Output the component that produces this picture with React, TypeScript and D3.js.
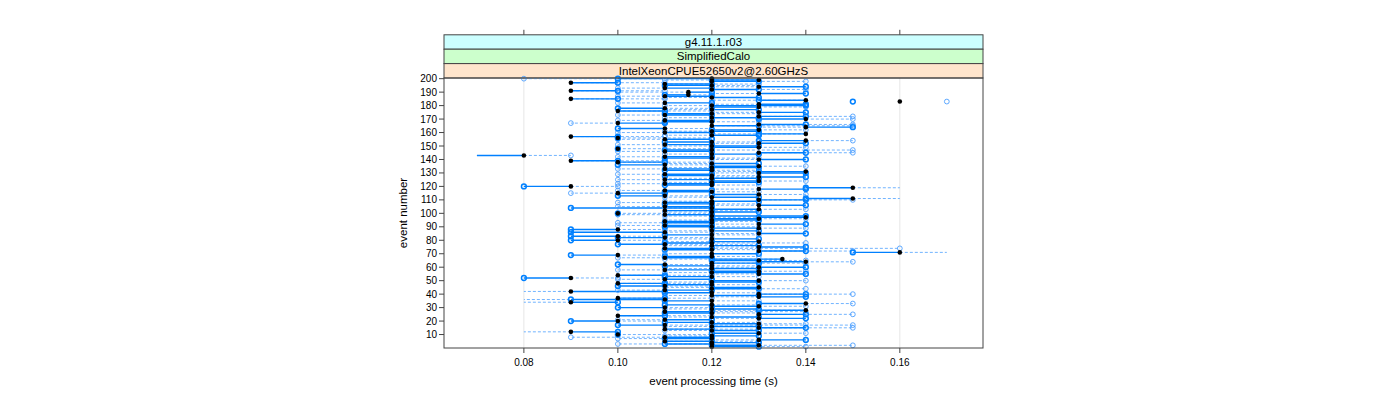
import React from "react";
import * as d3 from "d3";

// Per-event values in hundredths of a second (event 1..200)
const blackTime = [
  12,13,12,12,11,13,12,11,12,10, 13,9,12,11,13,12,11,13,12,10,
  11,13,12,10,13,12,11,14,12,11, 13,12,14,9,12,11,10,13,12,13,
  12,9,11,12,13,11,12,10,12,13, 11,9,12,10,13,12,13,11,12,13,
  12,11,12,14,13,13.5,11,12,10,12, 16,13,12,11,13,12,11,12,13,10,
  12,11,10,12,13,11,12,10,13,12, 11,13,12,11,12,13,14,12,11,10,
  12,11,13,12,11,13,12,11,12,13, 15,12,11,13,10,12,11,13,15,9,
  12,11,12,13,11,12,13,12,11,13, 14,12,11,12,13,11,12,10,9,13,
  12,11,8,12,13,11,12,10,13,12, 11,13,12,14,11,10,9,12,14,11,
  12,13,11,14,12,13,10,12,11,14, 12,13,11,12,13,10,12,11,13,12,
  13,11,16,14,9,12,11,11.5,13,11.5, 9,12,11,13,12,11,9,12,13,12,
];
const blueTime = [
  13,12,11,13,12,14,11,12,13,10, 12,10,13,12,14,13,10,12,11,9,
  12,14,13,11,14,11,12,13,13,10, 12,11,13,10,11,9,11,14,13,14,
  11,11,12,13,12,10,11,11,13,12, 12,8,11,11,14,13,12,12,13,14,
  11,10,13,13,12,12,12,11,9,13, 15,14,11,12,14,13,10,11,12,9,
  13,10,9,11,14,9,13,9,12,11, 12,14,11,12,13,12,13,14,12,10,
  13,12,12,9,12,14,11,12,13,14, 14,13,10,12,11,11,12,14,14,8,
  11,12,13,12,12,13,14,11,12,14, 13,11,12,13,12,10,13,11,10,14,
  11,12,7,13,14,12,11,10,12,13, 12,14,11,13,12,10,10,13,13,12,
  13,12,10,15,13,14,11,11,12,13, 13,14,12,11,14,11,13,10,12,14,
  14,12,15,13,10,13,12,11,14,12, 10,13,12,14,11,12,10,13,12,10,
];
const lightTime = [
  14,15,10,13,13,12,10,9,11,12, 14,8,11,13,15,11,15,14,13,11,
  10,12,11,12,15,13,14,12,11,12, 14,13,15,8,13,8,12,12,11,15,
  13,8,10,14,11,12,13,12,11,14, 10,10,13,12,12,11,14,10,11,12,
  13,12,14,15,14,11,10,13,11,11, 17,15,13,16,12,11,13,14,11,11,
  11,12,11,13,12,12,11,11,14,13, 10,12,10,13,11,14,12,11,10,12,
  11,13,14,11,10,12,13,10,11,15, 16,11,12,14,9,13,10,12,16,10,
  13,10,11,14,10,11,12,13,10,12, 12,13,10,11,14,12,11,12,11,12,
  13,10,9,11,15,10,15,12,14,11, 10,12,13,15,10,12,11,11,12,10,
  11,14,12,13,15,15,9,13,10,15, 11,15,10,13,12,12,11,12,14,11,
  12,10,17,12,11,11,10,12,12,10, 11,14,10,12,13,13,11,14,11,8,
];
// events drawn without connecting segments / without some circles
const noSegmentEvents = [183];
const noBlueCircleEvents = [143];
const noLightCircleEvents = [12, 34, 36, 42, 71, 111, 119];

const xTicks = [0.08, 0.1, 0.12, 0.14, 0.16];
const xTickLabels = ["0.08", "0.10", "0.12", "0.14", "0.16"];
const yTicks = [10, 20, 30, 40, 50, 60, 70, 80, 90, 100, 110, 120, 130, 140, 150, 160, 170, 180, 190, 200];
const stripLabels = ["g4.11.1.r03", "SimplifiedCalo", "IntelXeonCPUE52650v2@2.60GHzS"];
const stripColors = ["#ccffff", "#ccffcc", "#ffe5cc"];

const FONT = "'Liberation Sans', Arial, sans-serif";

export default function App() {
  const left = 436, right = 975, top = 70, bottom = 340;
  const x = d3.scaleLinear().domain([0.063, 0.1777]).range([left, right]);
  const y = d3.scaleLinear().domain([0, 200.5]).range([bottom, top]);
  const events = d3.range(1, 201);
  const stripH = 14.4;
  const blue = "#0080ff";
  const t = (v: number) => v / 100;

  return (
    <svg width={1384} height={384} style={{ display: "block", fontFamily: FONT }}>
      {xTicks.map((v) => (
        <line key={"g" + v} x1={x(v)} x2={x(v)} y1={top} y2={bottom} stroke="#e6e6e6" strokeWidth={1} />
      ))}
      {stripLabels.map((s, i) => (
        <g key={s}>
          <rect x={left} y={top - stripH * (3 - i)} width={right - left} height={stripH} fill={stripColors[i]} stroke="#444" strokeWidth={1} />
          <text x={(left + right) / 2} y={top - stripH * (3 - i) + stripH / 2 + 4} textAnchor="middle" fontSize={11.5} fill="#000">{s}</text>
        </g>
      ))}
      {xTicks.map((v) => (
        <line key={"tt" + v} x1={x(v)} x2={x(v)} y1={top - stripH * 3} y2={top - stripH * 3 - 5} stroke="#444" />
      ))}
      <g>
        {events.map((e, i) =>
          noSegmentEvents.includes(e) ? null : (
            <line key={"d" + e} x1={x(t(blackTime[i]))} x2={x(t(lightTime[i]))} y1={y(e)} y2={y(e)} stroke="#5aa8ff" strokeWidth={1} strokeDasharray="3,2" opacity={0.85} />
          )
        )}
        {events.map((e, i) =>
          noSegmentEvents.includes(e) ? null : (
            <line key={"s" + e} x1={x(t(blackTime[i]))} x2={x(t(blueTime[i]))} y1={y(e)} y2={y(e)} stroke={blue} strokeWidth={1.4} />
          )
        )}
        {events.map((e, i) =>
          noLightCircleEvents.includes(e) ? null : (
            <circle key={"lc" + e} cx={x(t(lightTime[i]))} cy={y(e)} r={2.4} fill="none" stroke="#4d9fff" strokeWidth={0.9} />
          )
        )}
        {events.map((e, i) =>
          noBlueCircleEvents.includes(e) ? null : (
            <circle key={"bc" + e} cx={x(t(blueTime[i]))} cy={y(e)} r={2.4} fill="none" stroke={blue} strokeWidth={1.5} />
          )
        )}
        {events.map((e, i) => (
          <circle key={"k" + e} cx={x(t(blackTime[i]))} cy={y(e)} r={2.3} fill="#000" />
        ))}
      </g>
      <rect x={left} y={top} width={right - left} height={bottom - top} fill="none" stroke="#444" strokeWidth={1} />
      {xTicks.map((v, i) => (
        <g key={"bx" + v}>
          <line x1={x(v)} x2={x(v)} y1={bottom} y2={bottom + 5} stroke="#444" />
          <text x={x(v)} y={bottom + 18} textAnchor="middle" fontSize={10}>{xTickLabels[i]}</text>
        </g>
      ))}
      {yTicks.map((v) => (
        <g key={"ly" + v}>
          <line x1={left} x2={left - 5} y1={y(v)} y2={y(v)} stroke="#444" />
          <text x={left - 7} y={y(v) + 3.5} textAnchor="end" fontSize={10}>{v}</text>
        </g>
      ))}
      <text x={(left + right) / 2} y={bottom + 37} textAnchor="middle" fontSize={11.5}>event processing time (s)</text>
      <text transform={`translate(399, ${(top + bottom) / 2}) rotate(-90)`} textAnchor="middle" fontSize={11.5}>event number</text>
    </svg>
  );
}
